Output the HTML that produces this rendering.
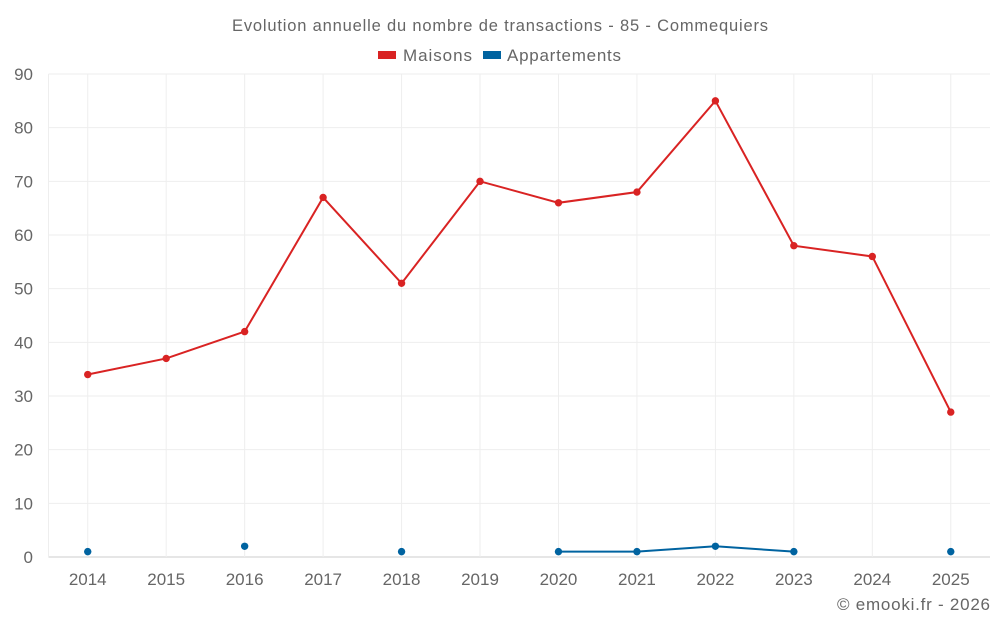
<!DOCTYPE html>
<html><head><meta charset="utf-8"><style>
body{margin:0;background:#fff;font-family:"Liberation Sans",sans-serif;}
svg text{font-family:"Liberation Sans",sans-serif;fill:#666;}
</style></head><body>
<svg id="chart" width="1000" height="625" xmlns="http://www.w3.org/2000/svg">
<text x="232" y="31" font-size="16.5" textLength="536" lengthAdjust="spacing">Evolution annuelle du nombre de transactions - 85 - Commequiers</text>
<g>
<g><rect x="378" y="51" width="18" height="8" fill="#d92323"/><text x="403" y="61" font-size="17" textLength="69" lengthAdjust="spacing">Maisons</text></g>
<g><rect x="483" y="51" width="18" height="8" fill="#0063a0"/><text x="507" y="61" font-size="17" textLength="114" lengthAdjust="spacing">Appartements</text></g>
</g>
<g id="grid"></g><g id="axes"></g><g id="series"></g>
<text x="837" y="610" font-size="17" textLength="153" lengthAdjust="spacing">© emooki.fr - 2026</text>
</svg>
<script>
const categories=["2014","2015","2016","2017","2018","2019","2020","2021","2022","2023","2024","2025"];
const maisons=[34,37,42,67,51,70,66,68,85,58,56,27];
const appartements=[1,null,2,null,1,null,1,1,2,1,null,1];
const yTicks=[0,10,20,30,40,50,60,70,80,90];
const L=48.5,R=990,T=74,B=557,yMax=90;
const step=(R-L)/categories.length;
const x=i=>L+step*(i+0.5);
const y=v=>B-(v/yMax)*(B-T);
const NS="http://www.w3.org/2000/svg";
function mk(tag,attrs,parent){const e=document.createElementNS(NS,tag);for(const k in attrs)e.setAttribute(k,attrs[k]);parent.appendChild(e);return e;}
const grid=document.getElementById('grid'),axes=document.getElementById('axes'),series=document.getElementById('series');
yTicks.forEach(t=>{
 const l=mk('line',{x1:L,x2:R,y1:y(t),y2:y(t),stroke:t===0?'#ccc':'#eee'},grid);
 
 
 const tx=mk('text',{x:33,y:y(t)+6,'text-anchor':'end','font-size':17},axes);tx.textContent=t;
 
 
});
mk('line',{x1:L,x2:L,y1:T,y2:B,stroke:'#eee'},grid);
categories.forEach((c,i)=>{
 const l=mk('line',{x1:x(i),x2:x(i),y1:T,y2:B,stroke:'#eee'},grid);
 
 
 const tx=mk('text',{x:x(i),y:585,'text-anchor':'middle','font-size':17},axes);tx.textContent=c;
 
 
});
function draw(data,color,name){
 let seg=[];const segs=[];
 data.forEach((v,i)=>{if(v==null){if(seg.length)segs.push(seg);seg=[];}else seg.push([x(i),y(v)]);});
 if(seg.length)segs.push(seg);
 segs.forEach(s=>{if(s.length>1){const p=mk('polyline',{points:s.map(q=>q.join(',')).join(' '),fill:'none',stroke:color,'stroke-width':2},series);
  
  }});
 data.forEach((v,i)=>{if(v==null)return;const c=mk('circle',{cx:x(i),cy:y(v),r:3.7,fill:color},series);
  
  });
}
draw(maisons,'#d92323','maisons');
draw(appartements,'#0063a0','appartements');
</script>
</body></html>
